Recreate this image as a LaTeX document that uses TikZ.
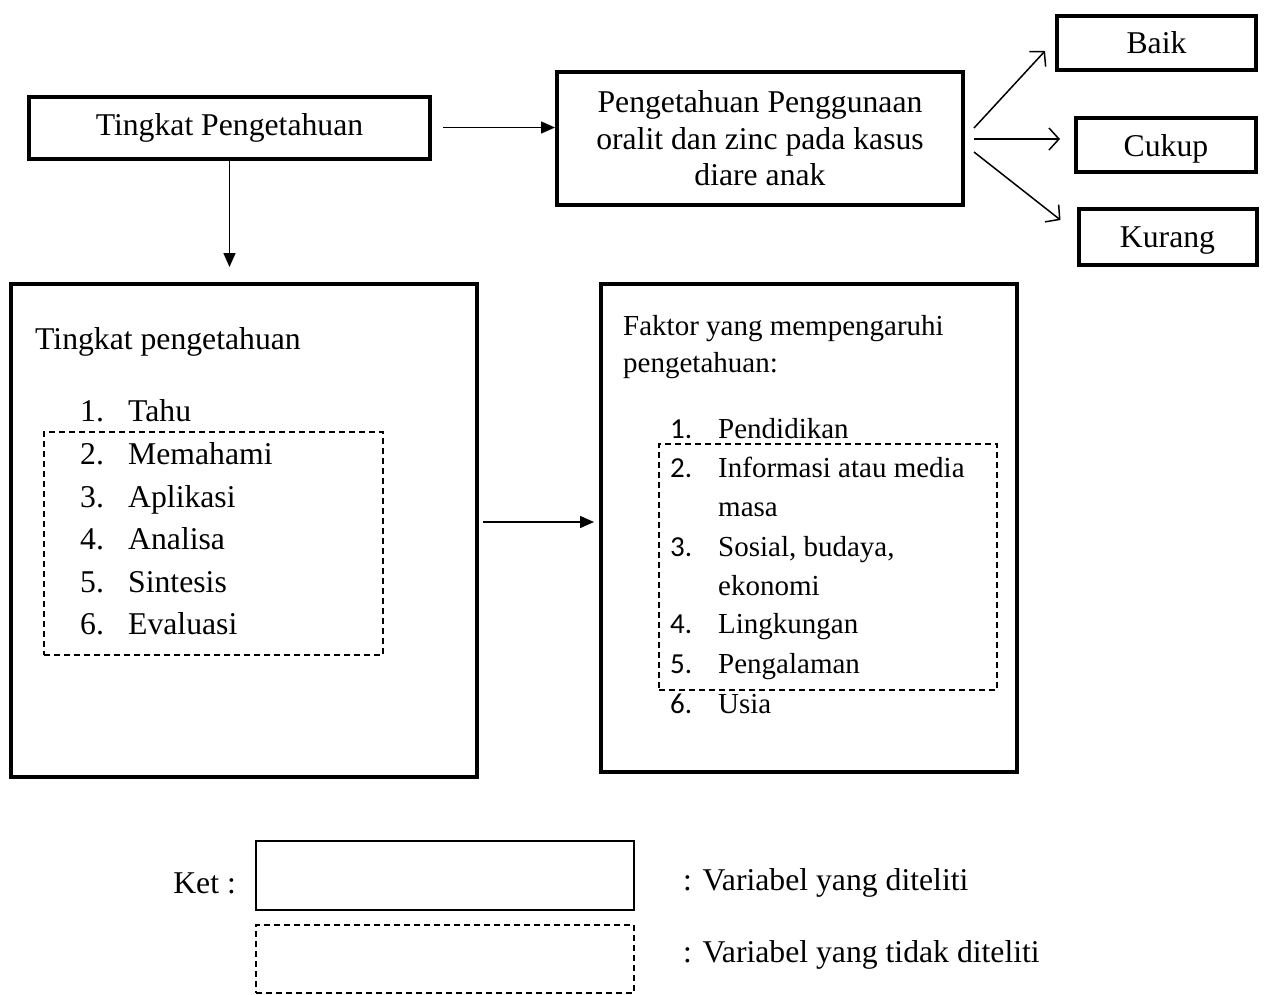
\documentclass[tikz,border=0pt]{standalone}
\usepackage{fontspec}
\setmainfont{Liberation Serif}
\newfontfamily\numfont{Carlito}
\usetikzlibrary{arrows.meta, positioning}

\begin{document}
\begin{tikzpicture}[x=1pt, y=-1pt, >=Triangle, font=\fontsize{31.7}{36.5}\selectfont]
        % Estilos de cajas y flechas
        \tikzstyle{block} = [draw, rectangle, line width=4pt, inner sep=0pt, align=center]
        \tikzstyle{dashblock} = [draw, rectangle, line width=1.5pt, dash pattern=on 6pt off 4pt, inner sep=0pt]
        \tikzstyle{keyblock} = [draw, rectangle, line width=1.5pt, inner sep=0pt]
        \tikzstyle{solid arrow} = [->, line width=1.5pt, >={Triangle[length=14pt, width=12pt]}]
        \tikzstyle{open arrow} = [line width=1.5pt, -{Straight Barb[length=10pt, width=22pt]}]
        \tikzstyle{txt} = [inner sep=0pt, anchor=base west]
        \tikzstyle{smalltxt} = [txt, font=\fontsize{29}{36.5}\selectfont]

        \useasboundingbox (0,0) rectangle (1266,994);

        % Nodes
        \node [block, minimum width=401pt, minimum height=62pt] at (229.5,127.5) (tingkat) {Tingkat Pengetahuan};
        \node [block, minimum width=406pt, minimum height=133pt] at (760,138.5) (penggunaan) {Pengetahuan Penggunaan\\oralit dan zinc pada kasus\\diare anak};
        \node [block, minimum width=199pt, minimum height=54pt] at (1156.5,43) (baik) {Baik};
        \node [block, minimum width=180pt, minimum height=54pt, text depth=0pt] at (1166,145) (cukup) {Cukup};
        \node [block, minimum width=178pt, minimum height=56pt, text depth=0pt] at (1167.5,237) (kurang) {Kurang};
        \node [block, minimum width=466pt, minimum height=493pt] at (244,530.5) (tingkatBox) {};
        \node [block, minimum width=416pt, minimum height=488pt] at (809,528) (faktorBox) {};
        \node [dashblock, minimum width=339pt, minimum height=223pt] at (213.5,543.5) (tingkatDash) {};
        \node [dashblock, minimum width=338pt, minimum height=246pt] at (828,567) (faktorDash) {};

        % Isi caja izquierda
        \node [inner sep=0pt, anchor=west] at (35,342) (tingkatTitle) {Tingkat pengetahuan};
        \foreach \num/\item/\y in {1/Tahu/410, 2/Memahami/453, 3/Aplikasi/496, 4/Analisa/538, 5/Sintesis/581, 6/Evaluasi/623}{
            \node [txt] at (80,\y+11) (numL\num) {\num.};
            \node [txt] at (128,\y+11) (itemL\num) {\item};
        }

        % Isi caja derecha
        \node [smalltxt] at (623,335) (faktorTitle) {Faktor yang mempengaruhi};
        \node [smalltxt] at (623,372) (faktorTitleB) {pengetahuan:};
        \foreach \num/\item/\y in {1/Pendidikan/428, 2/Informasi atau media/467, 3/{Sosial, budaya,}/546, 4/Lingkungan/623, 5/Pengalaman/663, 6/Usia/703}{
            \node [smalltxt] at (670,\y+10) (numR\num) {\numfont\num.};
            \node [smalltxt] at (718,\y+10) (itemR\num) {\item};
        }
        \node [smalltxt] at (718,516) (itemR2b) {masa};
        \node [smalltxt] at (718,595) (itemR3b) {ekonomi};

        % Keterangan
        \node [keyblock, minimum width=378pt, minimum height=69pt] at (445,875.5) (keySolid) {};
        \node [keyblock, dash pattern=on 6pt off 4pt, minimum width=378pt, minimum height=68pt] at (445,959) (keyDash) {};
        \node [inner sep=0pt, anchor=east] at (236,883) (ket) {Ket :};
        \node [inner sep=0pt, anchor=west] at (683,883) (ketSolid) {: Variabel yang diteliti};
        \node [inner sep=0pt, anchor=west] at (683,955) (ketDash) {: Variabel yang tidak diteliti};

        % Lines
        \draw [solid arrow, shorten <=11pt] (tingkat.east) -- (penggunaan.west |- tingkat.east);
        \draw [solid arrow, shorten >=15pt] (tingkat.south) -- (tingkat.south |- tingkatBox.north);
        \draw [solid arrow, shorten <=4pt, shorten >=5pt] (tingkatBox.east |- 0,522) -- (faktorBox.west |- 0,522);
        \draw [open arrow] ([shift={(9,-10.5)}]penggunaan.east) -- ([shift={(-10,8)}]baik.west);
        \draw [open arrow] ([shift={(9,0.5)}]penggunaan.east) -- ([shift={(-14,-6)}]cukup.west);
        \draw [open arrow] ([shift={(9,13.5)}]penggunaan.east) -- ([shift={(-16,-17)}]kurang.west);

      \end{tikzpicture}
\end{document}
